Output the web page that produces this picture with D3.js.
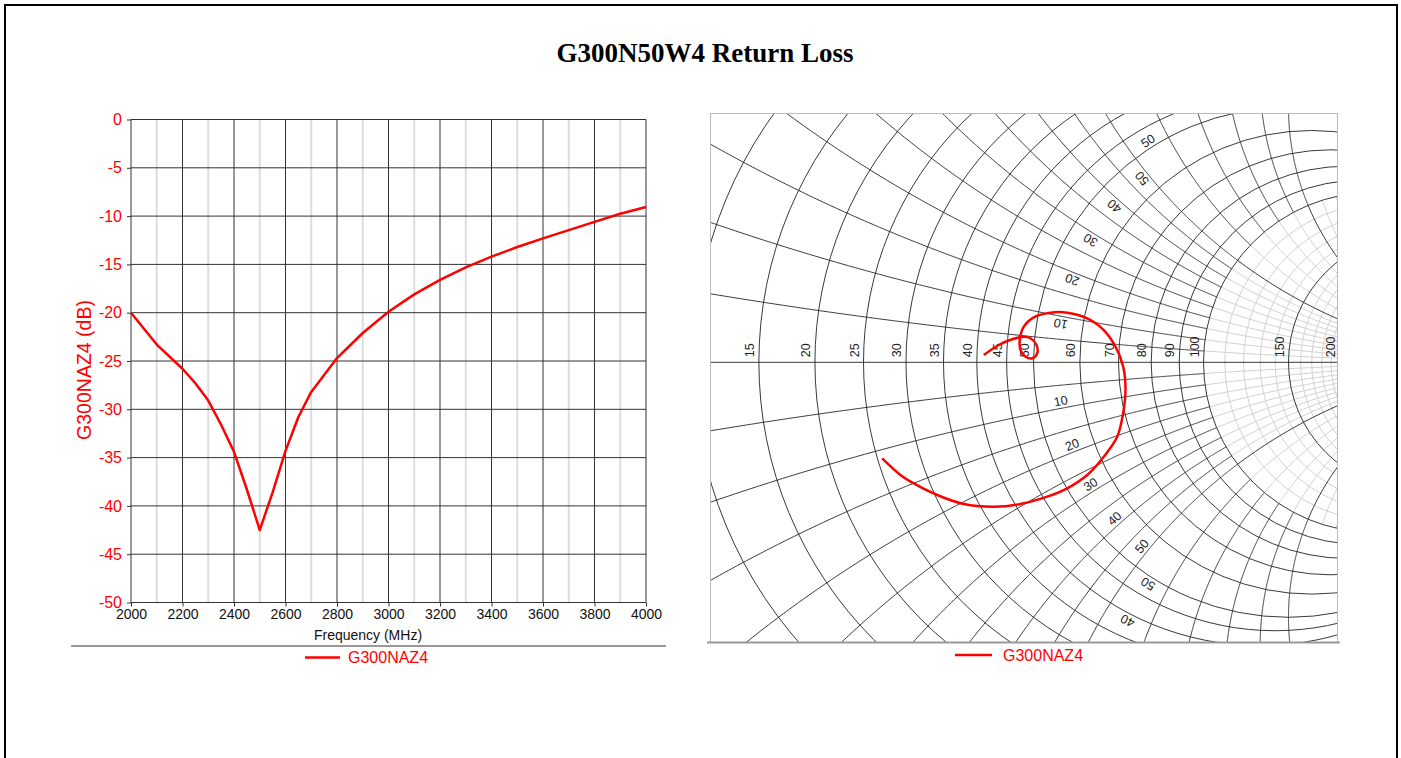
<!DOCTYPE html>
<html>
<head>
<meta charset="utf-8">
<title>G300N50W4 Return Loss</title>
<script src="https://d3js.org/d3.v7.min.js"></script>
<style>
  body { margin: 0; background: #fff; }
  svg { display: block; font-family: Arial, "Liberation Sans", sans-serif; }
  .title { font-family: "Times New Roman", "Liberation Serif", serif; font-weight: bold; font-size: 27px; text-anchor: middle; }
  .rl-axis .domain { display: none; }
  .rl-axis--y text { fill: #ff0000; font-size: 16px; }
  .rl-axis--x text { fill: #111; font-size: 14px; }
  .rl-axis .tick line { stroke: #333; }
  .smith-label { font-size: 12.5px; fill: #222; }
  .legend-text { font-size: 16px; fill: #ff0000; }
</style>
</head>
<body>
<svg width="1401" height="758"></svg>
<script>
// ---- return loss vs frequency (left panel)
const freqMHz = [2000, 2100, 2200, 2250, 2300, 2350, 2400, 2450, 2500, 2550, 2600, 2650, 2700,
                 2800, 2900, 3000, 3100, 3200, 3300, 3400, 3500, 3600, 3700, 3800, 3900, 4000];
const returnLossDb = [-20.0, -23.3, -25.8, -27.3, -29.1, -31.6, -34.4, -38.3, -42.5, -38.6, -34.3, -30.8, -28.2,
                      -24.7, -22.1, -19.9, -18.1, -16.6, -15.3, -14.2, -13.2, -12.3, -11.45, -10.6, -9.75, -9.05];
const freqTicks = [2000, 2200, 2400, 2600, 2800, 3000, 3200, 3400, 3600, 3800, 4000];
const freqMinorTicks = [2100, 2300, 2500, 2700, 2900, 3100, 3300, 3500, 3700, 3900];
const dbTicks = [0, -5, -10, -15, -20, -25, -30, -35, -40, -45, -50];

// ---- reflection coefficient trace (right panel, Smith chart)
const gammaRe = [-0.0975, -0.068, -0.0418, -0.019, -0.0059, 0.0059, 0.0073, -0.0025, -0.0157, -0.0255, -0.0269,
                 -0.019, 0.0006, 0.0333, 0.0661, 0.1053, 0.1378, 0.1608, 0.1759, 0.1804, 0.1745, 0.1641, 0.1378,
                 0.1053, 0.0661, 0.0269, -0.0255, -0.0778, -0.1367, -0.1888, -0.2412, -0.2608, -0.2967];
const gammaIm = [0.0143, 0.0339, 0.0451, 0.0502, 0.0471, 0.0339, 0.0176, 0.0078, 0.011, 0.0241, 0.0437,
                 0.0698, 0.0882, 0.0973, 0.0973, 0.0863, 0.0633, 0.0306, -0.0086, -0.0543, -0.1067, -0.1459, -0.1851,
                 -0.221, -0.2471, -0.2635, -0.2778, -0.2831, -0.2778, -0.2602, -0.2341, -0.221, -0.1882];

// Smith grid values in ohms (Z0 = 50)
const z0 = 50;
const resistanceOhms = [5, 10, 15, 20, 25, 30, 35, 40, 45, 50, 60, 70, 80, 90, 100, 150, 200];
const reactanceOhms = [5, 10, 15, 20, 25, 30, 35, 40, 45, 50, 60, 70, 80, 90, 100];
const coarseReactanceOhms = [50, 100];
const minorOhms = [110, 120, 130, 140, 160, 170, 180, 190];
const axisLabelOhms = [15, 20, 25, 30, 35, 40, 45, 50, 60, 70, 80, 90, 100, 150, 200];
const arcLabelOhms = [10, 20, 30, 40, 50];

const seriesName = "G300NAZ4";

const svg = d3.select("svg");
svg.append("rect").attr("width", 1401).attr("height", 758).attr("fill", "#fff");

// page frame
svg.append("path")
  .attr("d", "M5,758 V5 H1397 V758")
  .attr("fill", "none")
  .attr("stroke", "#000")
  .attr("stroke-width", 2);

svg.append("text")
  .attr("class", "title")
  .attr("x", 705)
  .attr("y", 62)
  .text("G300N50W4 Return Loss");

// ================= left panel =================
function returnLossChart(selection) {
  const xScale = d3.scaleLinear().domain([2000, 4000]).range([131, 646]);
  const yScale = d3.scaleLinear().domain([0, -50]).range([119.5, 602.5]);

  const g = selection.append("g");

  g.append("g")
    .selectAll("line")
    .data(freqMinorTicks)
    .join("line")
      .attr("x1", d => xScale(d)).attr("x2", d => xScale(d))
      .attr("y1", yScale(0)).attr("y2", yScale(-50))
      .attr("stroke", "#dddddd")
      .attr("stroke-width", 2);

  g.append("g")
    .selectAll("line")
    .data(freqTicks)
    .join("line")
      .attr("x1", d => xScale(d)).attr("x2", d => xScale(d))
      .attr("y1", yScale(0)).attr("y2", yScale(-50))
      .attr("stroke", "#333");

  g.append("g")
    .selectAll("line")
    .data(dbTicks)
    .join("line")
      .attr("x1", xScale(2000)).attr("x2", xScale(4000))
      .attr("y1", d => yScale(d)).attr("y2", d => yScale(d))
      .attr("stroke", "#333");

  g.append("g")
    .attr("class", "rl-axis rl-axis--y")
    .attr("transform", `translate(${xScale(2000)},0)`)
    .call(d3.axisLeft(yScale).tickValues(dbTicks).tickFormat(d => String(d)).tickSize(4).tickPadding(5));

  g.append("g")
    .attr("class", "rl-axis rl-axis--x")
    .attr("transform", `translate(0,${yScale(-50)})`)
    .call(d3.axisBottom(xScale).tickValues(freqTicks).tickFormat(d => String(d)).tickSize(4).tickPadding(2.5));

  g.append("text")
    .attr("x", 368)
    .attr("y", 640)
    .attr("text-anchor", "middle")
    .attr("font-size", 14)
    .attr("fill", "#111")
    .text("Frequency (MHz)");

  g.append("text")
    .attr("transform", "translate(91,370) rotate(-90)")
    .attr("text-anchor", "middle")
    .attr("font-size", 19.5)
    .attr("fill", "#ff0000")
    .text("G300NAZ4 (dB)");

  const line = d3.line()
    .x((d, i) => xScale(freqMHz[i]))
    .y(d => yScale(d));

  g.append("path")
    .datum(returnLossDb)
    .attr("d", line)
    .attr("fill", "none")
    .attr("stroke", "#ff0000")
    .attr("stroke-width", 2.5)
    .attr("stroke-linejoin", "round");

  // legend
  g.append("line")
    .attr("x1", 71).attr("x2", 666).attr("y1", 646).attr("y2", 646)
    .attr("stroke", "#999").attr("stroke-width", 2);
  g.append("line")
    .attr("x1", 305).attr("x2", 340).attr("y1", 657.5).attr("y2", 657.5)
    .attr("stroke", "#ff0000").attr("stroke-width", 2.5);
  g.append("text")
    .attr("class", "legend-text")
    .attr("x", 348).attr("y", 663)
    .text(seriesName);
}

// ================= right panel (Smith chart) =================
function gammaOf(r, x) {
  const d = (r + 1) * (r + 1) + x * x;
  return [(r * r + x * x - 1) / d, 2 * x / d];
}

function smithChart(selection) {
  const left = 710.5, right = 1337.5, top = 113.5, bottom = 642.5;
  const sx = d3.scaleLinear().domain([0, 1]).range([1033.5, 1543.5]);
  const sy = d3.scaleLinear().domain([0, 1]).range([362.3, -147.7]);
  const unit = sx(1) - sx(0);
  const inside = p => sx(p[0]) > left + 6 && sx(p[0]) < right - 6 && sy(p[1]) > top + 6 && sy(p[1]) < bottom - 6;

  const gammaLine = d3.line().x(p => sx(p[0])).y(p => sy(p[1]));
  const nearR = d3.range(0, 2.0001, 0.005);
  const farR = d3.range(0, 1.0001, 0.004).map(t => 2 * Math.pow(1000, t));
  const allR = nearR.concat(farR);
  const arcPath = (xOhm, rs) => gammaLine(rs.map(r => gammaOf(r, xOhm / z0)));

  selection.append("clipPath")
    .attr("id", "smith-clip")
    .append("rect")
      .attr("x", left).attr("y", top)
      .attr("width", right - left).attr("height", bottom - top);

  const g = selection.append("g").attr("clip-path", "url(#smith-clip)");

  // light grid inside the r >= 2 region
  const minor = g.append("g").attr("fill", "none").attr("stroke", "#d2d2d2").attr("stroke-width", 1);
  minor.selectAll("circle").data(minorOhms).join("circle")
    .attr("cx", d => sx((d / z0) / (1 + d / z0)))
    .attr("cy", sy(0))
    .attr("r", d => unit / (1 + d / z0));
  const fineX = reactanceOhms.filter(d => !coarseReactanceOhms.includes(d)).concat(minorOhms);
  minor.selectAll("path").data(fineX.flatMap(d => [d, -d])).join("path")
    .attr("d", d => arcPath(d, farR));

  // main grid
  const major = g.append("g").attr("fill", "none").attr("stroke", "#222").attr("stroke-width", 0.9);
  major.selectAll("circle").data(resistanceOhms).join("circle")
    .attr("cx", d => sx((d / z0) / (1 + d / z0)))
    .attr("cy", sy(0))
    .attr("r", d => unit / (1 + d / z0));
  major.selectAll("path").data(reactanceOhms.flatMap(d => [d, -d])).join("path")
    .attr("d", d => arcPath(d, coarseReactanceOhms.includes(Math.abs(d)) ? allR : nearR));
  major.append("line")
    .attr("x1", left).attr("x2", right)
    .attr("y1", sy(0)).attr("y2", sy(0));

  // resistance labels on the real axis
  g.append("g").selectAll("text").data(axisLabelOhms).join("text")
    .attr("class", "smith-label")
    .attr("transform", d => `translate(${sx(gammaOf(d / z0, 0)[0]) - 5},${sy(0) - 5}) rotate(-90)`)
    .text(d => d);

  // reactance labels at r = 1.1, written along the reactance arc
  const xLabels = arcLabelOhms.flatMap(d => [d, -d]).filter(d => inside(gammaOf(1.1, d / z0)));
  g.append("g").selectAll("text").data(xLabels).join("text")
    .attr("class", "smith-label")
    .attr("text-anchor", "middle")
    .attr("transform", d => {
      const x = -Math.abs(d) / z0;
      const p = gammaOf(1.1, x), q = gammaOf(1.11, x);
      let ang = Math.atan2(-(q[1] - p[1]), q[0] - p[0]) * 180 / Math.PI;
      if (d > 0) ang = 180 - ang;
      const pt = gammaOf(1.1, d / z0);
      return `translate(${sx(pt[0])},${sy(pt[1])}) rotate(${ang})`;
    })
    .attr("y", -3)
    .text(d => Math.abs(d));

  // resistance labels at x = +-1.1, written along the resistance circle
  const rLabels = arcLabelOhms.flatMap(d => [[d, 1], [d, -1]]).filter(([d, s]) => inside(gammaOf(d / z0, 1.1 * s)));
  g.append("g").selectAll("text").data(rLabels).join("text")
    .attr("class", "smith-label")
    .attr("text-anchor", "middle")
    .attr("transform", ([d, s]) => {
      const r = d / z0;
      const p = gammaOf(r, -1.1), q = gammaOf(r, -1.09);
      let ang = Math.atan2(-(q[1] - p[1]), q[0] - p[0]) * 180 / Math.PI;
      if (s > 0) ang = 180 - ang;
      const pt = gammaOf(r, 1.1 * s);
      return `translate(${sx(pt[0])},${sy(pt[1])}) rotate(${ang})`;
    })
    .attr("y", -3)
    .text(([d]) => d);

  // trace
  const trace = d3.line()
    .x(i => sx(gammaRe[i]))
    .y(i => sy(gammaIm[i]))
    .curve(d3.curveCatmullRom);
  g.append("path")
    .datum(d3.range(gammaRe.length))
    .attr("d", trace)
    .attr("fill", "none")
    .attr("stroke", "#ff0000")
    .attr("stroke-width", 2.5);

  // frame
  selection.append("rect")
    .attr("x", left).attr("y", top)
    .attr("width", right - left).attr("height", bottom - top)
    .attr("fill", "none").attr("stroke", "#bbb");
  selection.append("line")
    .attr("x1", 707).attr("x2", 1340).attr("y1", bottom).attr("y2", bottom)
    .attr("stroke", "#999").attr("stroke-width", 2);

  // legend
  selection.append("line")
    .attr("x1", 955).attr("x2", 992).attr("y1", 655).attr("y2", 655)
    .attr("stroke", "#ff0000").attr("stroke-width", 2.5);
  selection.append("text")
    .attr("class", "legend-text")
    .attr("x", 1003).attr("y", 661)
    .text(seriesName);
}

svg.call(returnLossChart);
svg.call(smithChart);
</script>
</body>
</html>
